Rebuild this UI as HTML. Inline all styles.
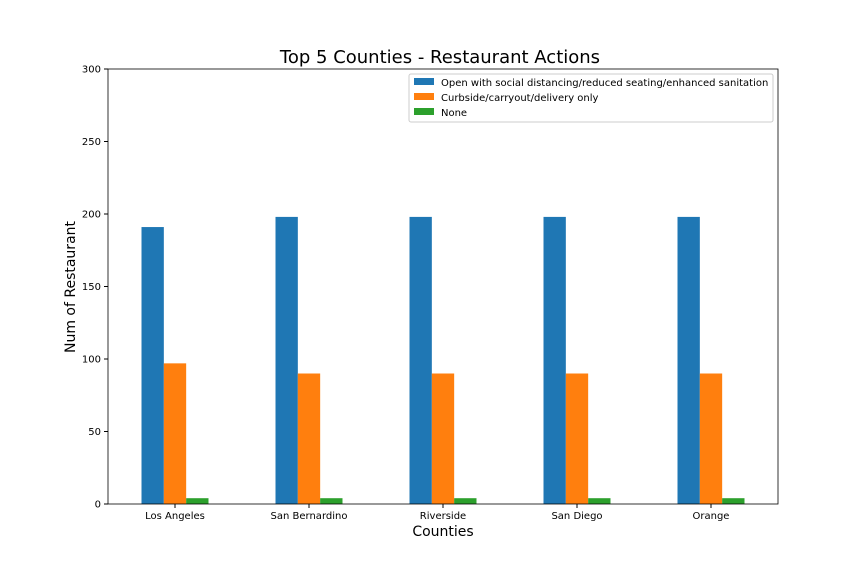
<!DOCTYPE html>
<html><head><meta charset="utf-8">
<style>
body{margin:0;background:#fff;}
svg{display:block;font-family:"DejaVu Sans","Liberation Sans",sans-serif;}
</style></head>
<body>
<svg id="chart" width="864" height="576" viewBox="0 0 864 576">
<text x="440" y="63" font-size="18" text-anchor="middle">Top 5 Counties - Restaurant Actions</text>
<g id="bars"></g>
<g id="axes"></g>
<rect x="108" y="69" width="670" height="435" fill="none" stroke="#000" stroke-width="0.8"/>
<text x="443" y="536" font-size="14" text-anchor="middle">Counties</text>
<text transform="translate(75,287) rotate(-90)" font-size="14" text-anchor="middle">Num of Restaurant</text>
<g>
<rect x="409" y="74" width="364" height="48" fill="#fff" stroke="#ccc" rx="2"/>
<rect x="414" y="78" width="20" height="7" fill="#1f77b4"/>
<text x="441" y="86" font-size="10">Open with social distancing/reduced seating/enhanced sanitation</text>
<rect x="414" y="93" width="20" height="7" fill="#ff7f0e"/>
<text x="441" y="101" font-size="10">Curbside/carryout/delivery only</text>
<rect x="414" y="108" width="20" height="7" fill="#2ca02c"/>
<text x="441" y="116" font-size="10">None</text>
</g>
</svg>
<script>
const categories = ["Los Angeles","San Bernardino","Riverside","San Diego","Orange"];
const openValues = [191,198,198,198,198];
const curbsideValues = [97,90,90,90,90];
const noneValues = [4,4,4,4,4];
const yTicks = [0,50,100,150,200,250,300];

const NS="http://www.w3.org/2000/svg";
const x0=108,x1=778,y0=504,y1=69,yMax=300;
const step=(x1-x0)/categories.length;
const barW=step/6;
function xCenter(i){return x0+step*(i+0.5);}
function yPos(v){return y0-(v/yMax)*(y0-y1);}
const bars=document.getElementById('bars');
const axes=document.getElementById('axes');
const series=[[openValues,"#1f77b4","open"],[curbsideValues,"#ff7f0e","curbside"],[noneValues,"#2ca02c","none"]];
categories.forEach((c,i)=>{
  series.forEach((s,j)=>{
    const r=document.createElementNS(NS,'rect');
    const v=s[0][i];
    r.setAttribute('x',xCenter(i)+(j-1.5)*barW);
    r.setAttribute('y',yPos(v));
    r.setAttribute('width',barW);
    r.setAttribute('height',y0-yPos(v));
    r.setAttribute('fill',s[1]);
    
    
    bars.appendChild(r);
  });
  const t=document.createElementNS(NS,'line');
  t.setAttribute('x1',xCenter(i));t.setAttribute('x2',xCenter(i));
  t.setAttribute('y1',y0);t.setAttribute('y2',y0+4);t.setAttribute('stroke','#000');
  
  
  axes.appendChild(t);
  const l=document.createElementNS(NS,'text');
  l.setAttribute('x',xCenter(i));l.setAttribute('y',y0+15);
  l.setAttribute('font-size','10');l.setAttribute('text-anchor','middle');
  l.textContent=c;
  
  
  axes.appendChild(l);
});
yTicks.forEach(v=>{
  const t=document.createElementNS(NS,'line');
  t.setAttribute('x1',x0-4);t.setAttribute('x2',x0);
  t.setAttribute('y1',yPos(v));t.setAttribute('y2',yPos(v));t.setAttribute('stroke','#000');
  
  
  axes.appendChild(t);
  const l=document.createElementNS(NS,'text');
  l.setAttribute('x',x0-7);l.setAttribute('y',yPos(v)+3.5);
  l.setAttribute('font-size','10');l.setAttribute('text-anchor','end');
  l.textContent=v;
  
  
  axes.appendChild(l);
});
</script>
</body></html>
